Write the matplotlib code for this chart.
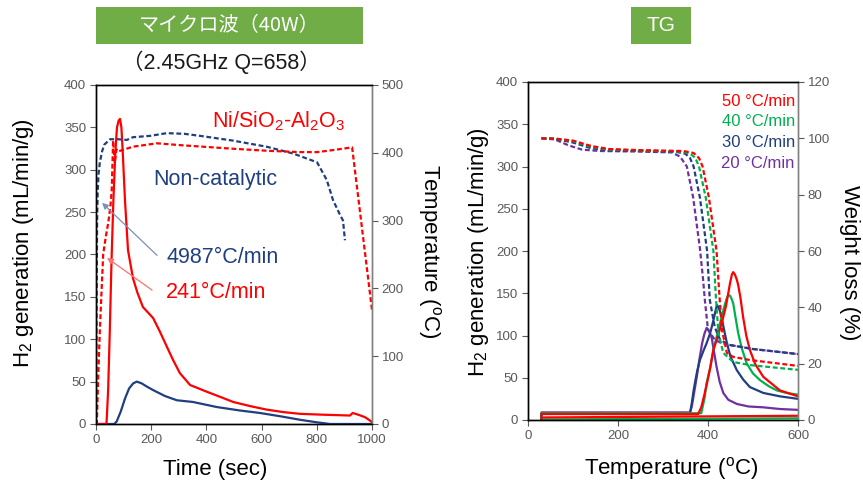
import numpy as np
import matplotlib
matplotlib.use('Agg')
import matplotlib.pyplot as plt
from matplotlib.patches import Rectangle

plt.rcParams['font.family'] = ['Liberation Sans', 'DejaVu Sans']
plt.rcParams['mathtext.fontset'] = 'custom'
plt.rcParams['mathtext.rm'] = 'Liberation Sans'
plt.rcParams['mathtext.it'] = 'Liberation Sans:italic'

# === 色 ===
RED = '#ff0000'
NAVY = '#203f80'
GREEN = '#00b050'
PURPLE = '#7030a0'
BOX = '#70ad47'
TICK = '#595959'

# === マイクロ波 (左) ===
# H2 generation (mL/min/g)
mw_ni_t = [0, 38, 44, 50, 56, 63, 70, 76, 82, 87, 92, 97, 105, 116, 134, 150, 170, 190, 207, 230,
           257, 280, 304, 341, 402, 450, 497, 560, 618, 680, 739, 820, 920, 930, 950, 975, 993, 1000]
mw_ni_h2 = [0, 0, 40, 110, 190, 264, 320, 350, 358, 360, 350, 320, 264, 205, 172, 155, 138, 131, 125, 110,
            91, 75, 60, 46, 38, 32, 26, 21, 17, 14, 12, 11, 10, 13, 11, 8, 4, 2]
mw_non_t = [0, 66, 75, 90, 105, 120, 135, 148, 165, 185, 207, 250, 293, 351, 438, 520, 594, 670, 739, 800, 848, 1000]
mw_non_h2 = [0, 0, 3, 15, 30, 42, 48, 50, 48, 44, 40, 33, 28, 26, 20, 16, 13, 9, 5, 2, 0, 0]
# 温度 (°C)
mw_non_temp_t = [0, 1, 2, 3, 4, 6, 9, 14, 22, 30, 51, 80, 112, 134, 196, 257, 320, 377, 496,
                 618, 714, 801, 836, 859, 880, 895, 902]
mw_non_temp = [0, 60, 150, 230, 300, 340, 368, 386, 402, 412, 420, 420, 419, 423, 425, 429, 428, 425, 418,
               409, 399, 386, 360, 330, 312, 300, 271]
mw_ni_temp_t = [0, 3, 8, 14, 20, 26, 35, 44, 52, 57, 62, 68, 74, 80, 95, 134, 221, 315, 496, 620, 739,
                801, 859, 928, 1000]
mw_ni_temp = [0, 0, 70, 138, 195, 250, 275, 296, 320, 345, 418, 385, 405, 402, 404, 409, 414, 411, 406,
              403, 401, 401, 404, 408, 168]

# === TG (右) ===
# 重量 (%)
tg_w_t = {
    '50': [30, 60, 100, 140, 180, 250, 345, 368, 380, 388, 402, 419, 425, 431, 442, 456, 493, 600],
    '40': [30, 60, 100, 140, 180, 250, 340, 360, 372, 380, 395, 412, 417, 423, 434, 456, 493, 600],
    '30': [30, 60, 100, 140, 180, 250, 330, 350, 360, 368, 382, 398, 404, 415, 427, 449, 500, 600],
    '20': [30, 60, 90, 120, 160, 250, 320, 338, 353, 367, 382, 389, 393, 400, 415, 430, 450, 500, 600],
}
tg_w = {
    '50': [100, 99.9, 99.2, 97.3, 96.2, 95.8, 95.5, 94.8, 93, 90, 79, 60, 45, 32, 23.8, 22.4, 21.3, 19.2],
    '40': [100, 99.9, 99, 97, 96, 95.7, 95.3, 94.6, 93, 90, 79, 60, 45, 31, 23.8, 20.6, 19.5, 17.8],
    '30': [100, 99.8, 98.5, 96.5, 95.8, 95.5, 95.2, 94.5, 93, 90, 79, 60, 42.6, 33, 28.4, 26.6, 25.2, 23.4],
    '20': [100, 99.6, 97.5, 96, 95.5, 95.3, 95, 93.5, 90, 79, 61, 50, 42.6, 32, 28.5, 27.3, 26.6, 25.2, 23.4],
}
# H2 generation (mL/min/g)
tg_h_t = {
    '50': [30, 30, 378, 385, 392, 398, 405, 412, 420, 428, 434, 440, 445, 449, 453, 456, 460, 464, 467, 472,
           478, 485, 493, 505, 523, 560, 600],
    '40': [30, 30, 385, 392, 397, 405, 412, 420, 427, 435, 441, 445, 449, 452, 456, 461, 467, 475, 486, 500,
           516, 535, 553, 575, 600],
    '30': [30, 30, 360, 364, 368, 371, 376, 382, 390, 397, 405, 412, 417, 420, 423, 427, 430, 436, 442, 450,
           464, 478, 493, 523, 560, 600],
    '20': [30, 30, 360, 364, 370, 375, 381, 387, 392, 397, 402, 408, 413, 419, 426, 434, 445, 464, 490, 523,
           560, 600],
}
tg_h = {
    '50': [0, 7, 7, 15, 30, 44, 62, 83, 96, 110, 122, 135, 150, 162, 172, 175, 172, 166, 160, 145,
           122, 100, 83, 66, 51, 35, 28],
    '40': [0, 8, 8, 25, 44, 62, 83, 100, 115, 132, 143, 148, 147, 144, 138, 122, 103, 85, 67, 55,
           47, 40, 35, 32, 30],
    '30': [0, 8, 8, 20, 35, 44, 58, 71, 82, 91, 103, 118, 130, 136, 134, 128, 122, 106, 91, 75,
           59, 48, 39, 32, 28, 25],
    '20': [0, 9, 9, 16, 35, 51, 72, 91, 102, 109, 106, 98, 82, 63, 45, 32, 24, 19, 16, 15, 13, 12],
}
tg_base_t = [30, 30, 600]
tg_base_red = [0, 3, 5]
tg_base_green = [0, 0.6, 2]
rates = ['50', '40', '30', '20']
rate_colors = {'50': RED, '40': GREEN, '30': NAVY, '20': PURPLE}

W, H = 863, 484
fig = plt.figure(figsize=(W / 100, H / 100), dpi=100)


def px(x, y):
    return x / W, 1 - y / H


def style(ax, right=False):
    ax.tick_params(axis='both', labelsize=9.5, colors=TICK, length=4, width=0.8, pad=3)
    for s in ax.spines.values():
        s.set_linewidth(1.0)
        s.set_color('black')
    ax.spines['right'].set_color('#808080')


# --- 左パネル ---
ax1 = fig.add_axes([96 / W, 1 - 424 / H, 276 / W, 339 / H])
ax1r = ax1.twinx()
ax1.plot(mw_non_t, mw_non_h2, color=NAVY, lw=1.6)
ax1.plot(mw_ni_t, mw_ni_h2, color=RED, lw=1.6)
ax1r.plot(mw_non_temp_t, mw_non_temp, color=NAVY, lw=1.6, dashes=(2.2, 1.2))
ax1r.plot(mw_ni_temp_t, mw_ni_temp, color=RED, lw=1.6, dashes=(2.2, 1.2))
ax1.set_xlim(0, 1000)
ax1.set_ylim(0, 400)
ax1.set_yticks(np.arange(0, 401, 50))
ax1.set_xticks(np.arange(0, 1001, 200))
ax1r.set_ylim(0, 500)
ax1r.set_yticks(np.arange(0, 501, 100))
style(ax1)
style(ax1r)
ax1.set_zorder(ax1r.get_zorder() + 1)
ax1.patch.set_visible(False)

ax1.text(905, 357, 'Ni/SiO$_2$-Al$_2$O$_3$', color=RED, fontsize=15.5, ha='right', va='center')
ax1.text(208, 288, 'Non-catalytic', color=NAVY, fontsize=15.5, ha='left', va='center')
ax1.text(254, 197, '4987°C/min', color=NAVY, fontsize=15.5, ha='left', va='center')
ax1.text(254, 155, '241°C/min', color=RED, fontsize=15.5, ha='left', va='center')
ax1.annotate('', xy=(22, 261), xytext=(221, 199),
             arrowprops=dict(arrowstyle='-|>', color='#7f8fb5', lw=0.9, mutation_scale=9,
                             shrinkA=0, shrinkB=0))
ax1.annotate('', xy=(40, 196), xytext=(203, 158),
             arrowprops=dict(arrowstyle='-|>', color='#ff7070', lw=0.9, mutation_scale=9,
                             shrinkA=0, shrinkB=0))

# --- 右パネル ---
ax2 = fig.add_axes([528 / W, 1 - 420 / H, 270 / W, 338 / H])
ax2r = ax2.twinx()
ax2.plot(tg_base_t, tg_base_green, color=GREEN, lw=1.6)
ax2.plot(tg_base_t, tg_base_red, color=RED, lw=1.6)
for r in ['20', '30', '40', '50']:
    ax2.plot(tg_h_t[r], tg_h[r], color=rate_colors[r], lw=1.6)
for r in ['20', '30', '40', '50']:
    ax2r.plot(tg_w_t[r], tg_w[r], color=rate_colors[r], lw=1.6, dashes=(2.2, 1.2))
ax2.set_xlim(0, 600)
ax2.set_ylim(0, 400)
ax2.set_xticks([0, 200, 400, 600])
ax2.set_yticks(np.arange(0, 401, 50))
ax2r.set_ylim(0, 120)
ax2r.set_yticks(np.arange(0, 121, 20))
style(ax2)
style(ax2r)
for r, y in zip(rates, [377, 353, 328, 304]):
    ax2.text(593, y, f'{r} °C/min', color=rate_colors[r], fontsize=12, ha='right', va='center')

# --- 軸ラベル ---
lab = dict(fontsize=16, ha='center', va='center', color='black')
fig.text(*px(23, 243), 'H$_2$ generation (mL/min/g)', rotation=90, **lab)
fig.text(*px(429, 251), 'Temperature ($^{\\mathregular{o}}$C)', rotation=270, **lab)
fig.text(*px(215, 470), 'Time (sec)', **lab)
fig.text(*px(478, 252), 'H$_2$ generation (mL/min/g)', rotation=90, **lab)
fig.text(*px(849, 263), 'Weight loss (%)', rotation=270, **lab)
fig.text(*px(671, 468), 'Temperature ($^{\\mathregular{o}}$C)', **lab)

# --- タイトルボックス ---
for x0, x1 in [(96, 363), (631, 691)]:
    fig.patches.append(Rectangle(px(x0, 44), (x1 - x0) / W, 37 / H, transform=fig.transFigure,
                                 facecolor=BOX, edgecolor='none'))
cjk = ['Noto Sans CJK JP', 'DejaVu Sans']
fig.text(*px(229.5, 25.5), 'マイクロ波（40W）', family=cjk, fontsize=14.5, color='white',
         ha='center', va='center')
fig.text(*px(661, 25.5), 'TG', family=['Liberation Sans'], fontsize=15, color='white',
         ha='center', va='center')
fig.text(*px(221, 62), '（2.45GHz Q=658）', family=['Liberation Sans', 'Noto Sans CJK JP'],
         fontsize=15.5, color='#1a1a1a', ha='center', va='center')

fig.savefig('out.png', dpi=100)
